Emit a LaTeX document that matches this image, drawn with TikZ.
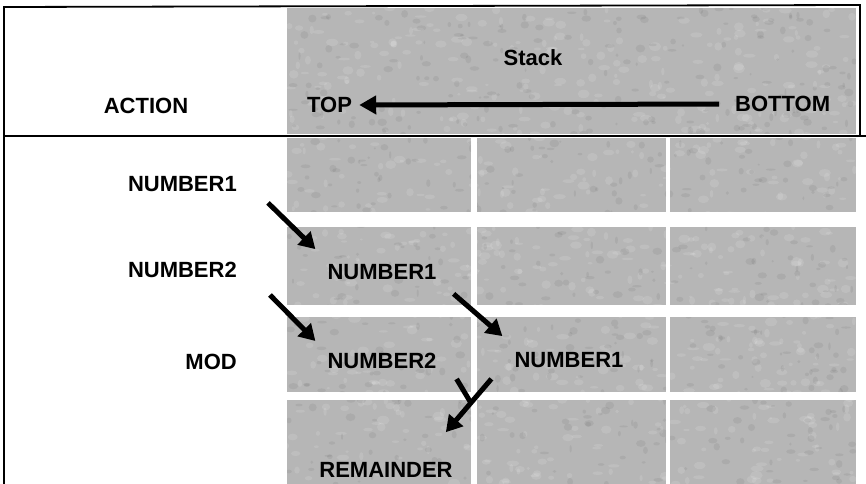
\documentclass[tikz,border=0pt]{standalone}
\usepackage{fontspec}
\setmainfont{Liberation Sans}
\usetikzlibrary{arrows.meta,calc}
\definecolor{screen}{RGB}{182,182,182}
\begin{document}
\begin{tikzpicture}[x=1bp,y=-1bp,
  cell/.style={fill=screen},
  lbl/.style={font=\fontsize{22bp}{26bp}\selectfont\bfseries,inner sep=1bp},
  rule/.style={line width=1.8bp,black},
  push/.style={line width=5bp,-{Triangle[length=16bp,width=18bp]}},
  branch/.style={line width=5bp}
]
\useasboundingbox (0,0) rectangle (866,484);
\fill[white] (0,0) rectangle (866,484);

% header band and the three-by-four grid of stack cells
\fill[cell] (287,8) rectangle (856,134);
\foreach \ya/\yb in {138/212, 227/305, 317/392, 400/484}{
  \fill[cell] (287,\ya) rectangle (471,\yb);
  \fill[cell] (477,\ya) rectangle (666,\yb);
  \fill[cell] (670,\ya) rectangle (856,\yb);
}

% fine mottled grain over the grey areas
\begin{scope}
  \clip (287,8) rectangle (856,134)
        (287,138) rectangle (471,212) (477,138) rectangle (666,212) (670,138) rectangle (856,212)
        (287,227) rectangle (471,305) (477,227) rectangle (666,305) (670,227) rectangle (856,305)
        (287,317) rectangle (471,392) (477,317) rectangle (666,392) (670,317) rectangle (856,392)
        (287,400) rectangle (471,484) (477,400) rectangle (666,484) (670,400) rectangle (856,484);
  \pgfmathsetseed{4711}
  \foreach \i in {1,...,900}{
    \pgfmathsetmacro\px{287+rnd*569}
    \pgfmathsetmacro\py{8+rnd*476}
    \pgfmathsetmacro\rx{1.5+rnd*5}
    \pgfmathsetmacro\ry{1+rnd*3.5}
    \fill[white,opacity=0.12] (\px,\py) ellipse [x radius=\rx, y radius=\ry];
  }
  \foreach \i in {1,...,700}{
    \pgfmathsetmacro\px{287+rnd*569}
    \pgfmathsetmacro\py{8+rnd*476}
    \pgfmathsetmacro\rx{1+rnd*4}
    \pgfmathsetmacro\ry{1+rnd*3}
    \fill[black,opacity=0.06] (\px,\py) ellipse [x radius=\rx, y radius=\ry];
  }
\end{scope}

% frame
\draw[rule] (4,484) -- (4,7) -- (860,5) -- (860,136);
\draw[rule] (4,136) -- (866,136);

% header
\node[lbl] (stack) at (533,58) {Stack};
\node[lbl] (action) at (146,106) {ACTION};
\node[lbl,anchor=west] (top) at (306,105) {TOP};
\node[lbl,anchor=west] (bottom) at (734,104) {BOTTOM};
\draw[push,-{Triangle[length=17bp,width=18bp]},shorten <=15bp,shorten >=6bp]
  (bottom.west) -- (top.east);

% actions
\node[lbl,anchor=east] (l1) at (238,184) {NUMBER1};
\node[lbl,anchor=east] (l2) at (238,270) {NUMBER2};
\node[lbl,anchor=east] (l3) at (238,362) {MOD};

% stack contents
\node[lbl] (n21) at (382,272) {NUMBER1};
\node[lbl] (n31) at (382,361) {NUMBER2};
\node[lbl] (n32) at (569,360) {NUMBER1};
\node[lbl] (n41) at (386,470) {REMAINDER};

% pushes
\draw[push] ([shift={(30,10)}]l1.south east) -- ([shift={(-11,-14)}]n21.north west);
\draw[push] ([shift={(32,16)}]l2.south east) -- ([shift={(-11,-11)}]n31.north west);
\draw[push] ([shift={(16,13)}]n21.south east) -- ([shift={(-11,-15)}]n32.north west);

% MOD combines the two top entries into the remainder
\coordinate (ys) at ([shift={(-22,10)}]n32.south west);
\coordinate (yt) at ([shift={(-8,-29)}]n41.north east);
\coordinate (yj) at ($(ys)!0.45!(yt)$);
\draw[push] (ys) -- (yt);
\draw[branch] ([shift={(19,9)}]n31.south east) -- (yj);
\end{tikzpicture}
\end{document}
